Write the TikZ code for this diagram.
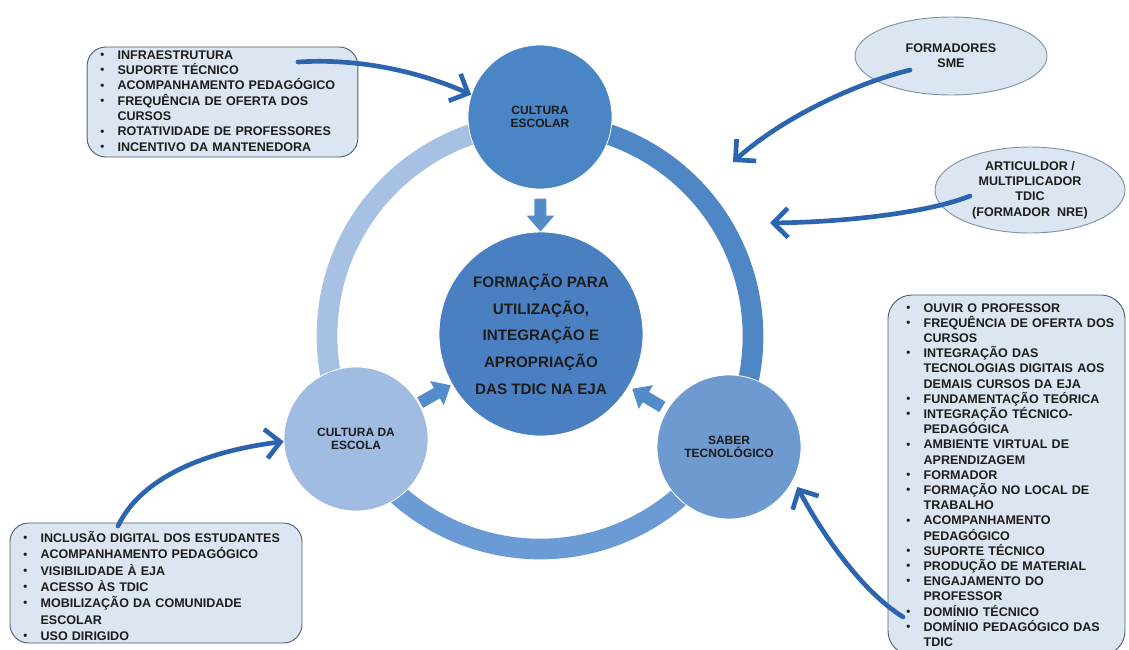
\documentclass[tikz,border=0pt]{standalone}
\usepackage{fontspec}
\setmainfont{Liberation Sans}
\usetikzlibrary{arrows.meta,shapes.geometric}

\definecolor{boxfill}{RGB}{220,230,242}
\definecolor{boxline}{RGB}{80,96,120}
\definecolor{bubbleline}{RGB}{130,145,170}
\definecolor{topblue}{RGB}{74,133,197}
\definecolor{cenblue}{RGB}{74,128,194}
\definecolor{leftblue}{RGB}{160,188,226}
\definecolor{rightblue}{RGB}{111,154,208}
\definecolor{ringleft}{RGB}{167,193,228}
\definecolor{ringright}{RGB}{79,134,198}
\definecolor{ringbottom}{RGB}{107,155,212}
\definecolor{arrowblue}{RGB}{84,140,201}
\definecolor{brushblue}{RGB}{43,101,176}
\definecolor{inkgray}{RGB}{28,28,28}

\newcommand{\itemlist}[1]{%
  \foreach \entry in {#1} {%
    \hangindent=13pt\hangafter=1\noindent
    \makebox[13pt][l]{\raisebox{0.6pt}{\fontsize{8.5}{8.5}\selectfont\textbullet}}\entry\par
  }%
}

\tikzset{
  ringarc/.style={draw=#1, line width=15.5pt},
  disc/.style={circle, fill=#1, draw=white, line width=0.6pt, minimum size=108pt,
    inner sep=0pt, align=center, text=inkgray,
    font=\fontsize{9}{9.8}\selectfont\bfseries},
  blockarrow/.style={draw=arrowblue, line width=9pt, -{Triangle[length=12pt,width=20pt]}},
  listbox/.style={draw=boxline, fill=boxfill, line width=0.7pt, rounded corners=14pt},
  listtext/.style={text width=200pt, align=left, inner sep=0pt, text=inkgray,
    font=\fontsize{9.4}{#1}\selectfont\bfseries},
  bubble/.style={ellipse, draw=bubbleline, fill=boxfill, line width=0.7pt, inner sep=0pt,
    align=center, text=inkgray, font=\fontsize{9.4}{11.5}\selectfont\bfseries},
  brush/.style={draw=brushblue, line width=3.5pt, line cap=round,
    -{Straight Barb[length=11pt,width=22pt]}}
}

\begin{document}
\begin{tikzpicture}[x=0.75pt,y=0.75pt]
\useasboundingbox (0,0) rectangle (1129,-650);

% ring round the centre
\coordinate (ring) at (540,-336);
\draw[ringarc=ringleft] (ring) ++(90:213) arc[start angle=90,end angle=210,radius=213];
\draw[ringarc=ringbottom] (ring) ++(210:213) arc[start angle=210,end angle=330,radius=213];
\draw[ringarc=ringright] (ring) ++(-30:213) arc[start angle=-30,end angle=90,radius=213];

% the four discs
\node[disc=topblue] (topc) at (540,-117) {CULTURA\\ESCOLAR};
\node[disc=leftblue] (leftc) at (356,-439) {CULTURA DA\\ESCOLA};
\node[disc=rightblue] (rightc) at (729,-447) {SABER\\TECNOLÓGICO};
\node[disc=cenblue, minimum size=153pt, font=\fontsize{11.4}{20}\selectfont\bfseries] (cen) at (541,-334)
  {FORMAÇÃO PARA\\UTILIZAÇÃO,\\INTEGRAÇÃO E\\APROPRIAÇÃO\\DAS TDIC NA EJA};

\draw[blockarrow, shorten <=7pt] (topc) -- (cen);
\draw[blockarrow, shorten <=1pt, shorten >=1pt] (leftc) -- (cen);
\draw[blockarrow, shorten <=4pt, shorten >=3pt] (rightc) -- (cen);

% lists
\node[listbox, minimum width=203pt, minimum height=82.5pt] (tlbox) at (222.5,-102) {};
\node[listtext=11.5pt, anchor=west] (tllist) at (100,-101) {\itemlist{INFRAESTRUTURA,
  SUPORTE TÉCNICO, ACOMPANHAMENTO PEDAGÓGICO, FREQUÊNCIA DE OFERTA DOS\newline CURSOS,
  ROTATIVIDADE DE PROFESSORES, INCENTIVO DA MANTENEDORA}};

\node[listbox, minimum width=219pt, minimum height=90pt] (blbox) at (156,-583) {};
\node[listtext=12.2pt, anchor=west] (bllist) at (23,-586) {\itemlist{INCLUSÃO DIGITAL DOS ESTUDANTES,
  ACOMPANHAMENTO PEDAGÓGICO, VISIBILIDADE À EJA, ACESSO ÀS TDIC,
  MOBILIZAÇÃO DA COMUNIDADE\newline ESCOLAR, USO DIRIGIDO}};

\node[listbox, rounded corners=18pt, minimum width=177.75pt, minimum height=270pt] (rbox) at (1006.5,-475) {};
\node[listtext=11.4pt, anchor=west] (rlist) at (906,-475) {\itemlist{OUVIR O PROFESSOR,
  FREQUÊNCIA DE OFERTA DOS\newline CURSOS,
  INTEGRAÇÃO DAS\newline TECNOLOGIAS DIGITAIS AOS\newline DEMAIS CURSOS DA EJA,
  FUNDAMENTAÇÃO TEÓRICA, INTEGRAÇÃO TÉCNICO-\newline PEDAGÓGICA,
  AMBIENTE VIRTUAL DE\newline APRENDIZAGEM, FORMADOR,
  FORMAÇÃO NO LOCAL DE\newline TRABALHO, ACOMPANHAMENTO\newline PEDAGÓGICO,
  SUPORTE TÉCNICO, PRODUÇÃO DE MATERIAL, ENGAJAMENTO DO\newline PROFESSOR,
  DOMÍNIO TÉCNICO, DOMÍNIO PEDAGÓGICO DAS\newline TDIC}};

% trainers
\node[bubble, minimum width=144pt, minimum height=58.5pt] (sme) at (951,-56) {FORMADORES\\SME};
\node[bubble, minimum width=142.5pt, minimum height=64.5pt] (nre) at (1030,-190)
  {ARTICULDOR /\\MULTIPLICADOR\\TDIC\\(FORMADOR~~NRE)};

% brush arrows
\coordinate (tlfrom) at (298,-62);
\coordinate (smefrom) at (910,-70);
\coordinate (smeto) at (733,-162);
\coordinate (nrefrom) at (970,-196);
\coordinate (nreto) at (770,-223);
\coordinate (blfrom) at (118,-526);
\coordinate (rfrom) at (903,-617);

\draw[brush] (tlfrom) .. controls (360,-58) and (420,-72) .. (topc.162);
\draw[brush] (smefrom) .. controls (850,-85) and (780,-120) .. (smeto);
\draw[brush] (nrefrom) .. controls (930,-212) and (850,-222) .. (nreto);
\draw[brush] (blfrom) .. controls (140,-480) and (200,-452) .. (leftc.182);
\draw[brush, shorten >=6pt] (rfrom) .. controls (860,-590) and (820,-530) .. (rightc.-27);
\end{tikzpicture}
\end{document}
